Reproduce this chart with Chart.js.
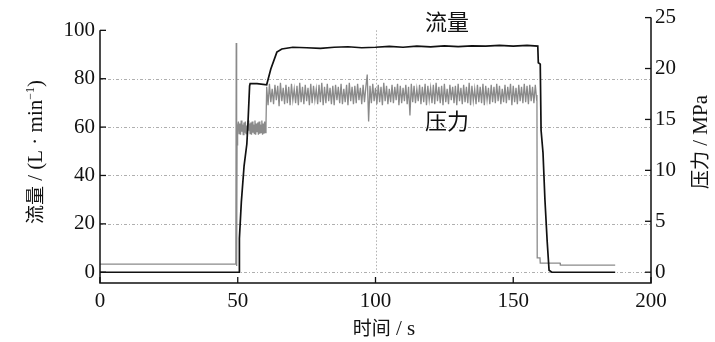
<!DOCTYPE html>
<html>
<head>
<meta charset="utf-8">
<script src="https://cdn.jsdelivr.net/npm/chart.js@4.4.1/dist/chart.umd.min.js"></script>
<style>
  html, body { margin: 0; padding: 0; background: #fff; }
  #wrapper { width: 715px; height: 342px; }
</style>
</head>
<body>
<div id="wrapper"><canvas id="canvas" width="715" height="342"></canvas></div>
<script>
// ---- datos ----
var xTicks = [0, 50, 100, 150, 200];
var flowTicks = [0, 20, 40, 60, 80, 100];
var pressTicks = [0, 5, 10, 15, 20, 25];

// 流量 (L/min), eje izquierdo
var flowTime  = [0, 50.5, 50.6, 51.3, 52.3, 53.3, 53.7, 54.3, 54.5, 57, 60.5, 62, 64.2, 66, 70, 75, 80, 85, 90, 95,
                 100, 105, 110, 115, 120, 125, 130, 135, 140, 145, 150, 155, 158.9, 159.1, 159.8, 160.1, 160.8, 161.5,
                 162.3, 163, 164, 187];
var flowValue = [0, 0, 14, 29, 44, 53, 61.5, 77, 78, 78, 77.5, 84, 91, 92.3, 93, 92.8, 92.5, 93, 93.2, 92.8,
                 93, 93.4, 93, 93.5, 93.2, 93.6, 93.3, 93.6, 93.5, 93.8, 93.5, 93.8, 93.5, 86.6, 86, 58.7, 49.4, 30,
                 13, 0.8, 0, 0];

// 压力 (MPa), eje derecho
var pressPreTime  = [0, 49.3, 49.45, 49.6, 49.75, 49.9];
var pressPreValue = [0.8, 0.8, 22.5, 0.6, 12.5, 14.0];

// banda baja: de 50 s, cada 0.25 s
var lowBandStart = 50, lowBandStep = 0.25;
var lowBand = [14.2, 14.8, 13.6, 14.6, 13.5, 14.9, 13.8, 14.5, 13.5, 14.7,
               13.7, 14.8, 13.6, 14.4, 13.5, 14.9, 13.9, 14.6, 13.6, 14.7,
               13.5, 14.8, 13.7, 14.5, 13.6, 14.9, 13.5, 14.6, 13.8, 14.7,
               13.5, 14.8, 13.6, 14.5, 13.7, 14.9, 13.5, 14.6, 13.6, 14.8,
               13.7, 14.5];

// banda alta: de 60.5 s, cada 0.5 s
var highBandStart = 60.5, highBandStep = 0.5;
var highBand = [
  18.2, 16.4, 18.5, 16.7, 18.0, 16.5, 18.4, 16.9, 18.3, 16.3, 18.6, 16.8, 18.1, 16.5,
  18.4, 16.6, 18.2, 16.4, 18.5, 16.9, 18.0, 16.6, 18.3, 16.4, 18.6, 16.7, 18.2, 16.5,
  18.4, 16.8, 18.1, 16.4, 18.5, 16.6, 18.3, 16.9, 18.0, 16.5, 18.4, 16.7, 18.6, 16.4,
  18.2, 16.6, 18.5, 16.8, 18.1, 16.5, 18.3, 16.4, 18.4, 16.9, 18.2, 16.6, 18.5, 16.5,
  18.0, 16.7, 18.4, 16.4, 18.6, 16.8, 18.2, 16.5, 18.3, 16.6, 18.5, 16.9, 18.1, 16.5,
  18.4, 16.7, 18.2, 19.4, 14.8, 18.3, 16.6, 18.5, 16.8, 18.1, 16.5, 18.4, 16.7, 18.2,
  16.4, 18.6, 16.8, 18.3, 16.5, 18.0, 16.7, 18.4, 16.6, 18.2, 16.9, 18.5, 16.4, 18.3,
  16.6, 18.1, 16.8, 18.4, 16.5, 18.2, 15.4, 18.5, 16.7, 18.3, 16.6, 18.0, 16.8, 18.4,
  16.5, 18.2, 16.7, 18.5, 16.4, 18.3, 16.9, 18.1, 16.6, 18.4, 16.5, 18.6, 16.8, 18.2,
  16.6, 18.3, 16.4, 18.5, 16.7, 18.0, 16.5, 18.4, 16.9, 18.2, 16.6, 18.3, 16.4, 18.5,
  16.8, 18.1, 16.5, 18.4, 16.7, 18.2, 16.6, 18.6, 16.4, 18.3, 16.8, 18.0, 16.5, 18.4,
  16.7, 18.2, 16.6, 18.5, 16.4, 18.3, 16.9, 18.1, 16.5, 18.4, 16.7, 18.2, 16.6, 18.5,
  16.8, 18.3, 16.5, 18.0, 16.7, 18.4, 16.6, 18.2, 16.9, 18.5, 16.4, 18.3, 16.7, 18.1,
  16.5, 18.4, 16.8, 18.2, 16.6, 18.5, 16.7, 18.3, 16.5, 18.4, 16.8, 18.2, 16.6, 18.4, 16.9
];

var pressEndTime  = [158.6, 158.7, 159.7, 159.8, 167, 167.1, 187];
var pressEndValue = [17.4, 1.4, 1.4, 0.9, 0.9, 0.7, 0.7];

// ---- armado de puntos ----
var flowPoints = flowTime.map(function (t, i) { return { x: t, y: flowValue[i] }; });
var pressPoints = [];
pressPreTime.forEach(function (t, i) { pressPoints.push({ x: t, y: pressPreValue[i] }); });
lowBand.forEach(function (v, i) { pressPoints.push({ x: lowBandStart + i * lowBandStep, y: v }); });
highBand.forEach(function (v, i) { pressPoints.push({ x: highBandStart + i * highBandStep, y: v }); });
pressEndTime.forEach(function (t, i) { pressPoints.push({ x: t, y: pressEndValue[i] }); });

var SERIF = '"Liberation Serif", "DejaVu Serif", serif';
var CJK = '"Noto Sans CJK SC", sans-serif';
var INK = '#111';

function drawRuns(ctx, runs, cx, cy, rot) {
  ctx.save();
  ctx.translate(cx, cy);
  ctx.rotate(rot);
  ctx.textAlign = 'left';
  ctx.textBaseline = 'alphabetic';
  ctx.fillStyle = INK;
  var total = 0;
  runs.forEach(function (r) { ctx.font = r.font; r.w = ctx.measureText(r.text).width; total += r.w; });
  var x = -total / 2;
  runs.forEach(function (r) {
    ctx.font = r.font;
    ctx.fillText(r.text, x, 7 + (r.dy || 0));
    x += r.w;
  });
  ctx.restore();
}

// ejes, marcas hacia dentro, rejilla y textos
var axesPlugin = {
  id: 'axesPlugin',
  beforeDatasetsDraw: function (chart) {
    var ctx = chart.ctx, a = chart.chartArea;
    var xs = chart.scales.x, yl = chart.scales.y;
    ctx.save();
    ctx.strokeStyle = '#9a9a9a';
    ctx.lineWidth = 0.8;
    ctx.setLineDash([3, 2, 1, 2]);
    flowTicks.forEach(function (v) {
      if (v === 100) return;
      var py = Math.round(yl.getPixelForValue(v)) + 0.5;
      ctx.beginPath(); ctx.moveTo(a.left, py); ctx.lineTo(a.right, py); ctx.stroke();
    });
    ctx.setLineDash([1.5, 2]);
    var px = Math.round(xs.getPixelForValue(100)) + 0.5;
    ctx.beginPath(); ctx.moveTo(px, yl.getPixelForValue(100)); ctx.lineTo(px, yl.getPixelForValue(0)); ctx.stroke();
    ctx.restore();
  },
  afterDraw: function (chart) {
    var ctx = chart.ctx, a = chart.chartArea;
    var xs = chart.scales.x, yl = chart.scales.y, yr = chart.scales.y1;
    ctx.save();
    ctx.strokeStyle = INK;
    ctx.lineWidth = 1.5;
    ctx.setLineDash([]);
    ctx.beginPath();
    ctx.moveTo(a.left, yl.getPixelForValue(100));
    ctx.lineTo(a.left, a.bottom);
    ctx.lineTo(a.right, a.bottom);
    ctx.lineTo(a.right, a.top);
    ctx.stroke();
    var tl = 6;
    ctx.lineWidth = 1.3;
    flowTicks.forEach(function (v) {
      var py = yl.getPixelForValue(v);
      ctx.beginPath(); ctx.moveTo(a.left, py); ctx.lineTo(a.left + tl, py); ctx.stroke();
    });
    pressTicks.forEach(function (v) {
      var py = yr.getPixelForValue(v);
      ctx.beginPath(); ctx.moveTo(a.right, py); ctx.lineTo(a.right - tl, py); ctx.stroke();
    });
    xTicks.forEach(function (v) {
      var px = xs.getPixelForValue(v);
      ctx.beginPath(); ctx.moveTo(px, a.bottom); ctx.lineTo(px, a.bottom - tl); ctx.stroke();
    });
    ctx.restore();

    var serif = '21px ' + SERIF, cjk = '19px ' + CJK;
    drawRuns(ctx, [
      { text: '流量', font: cjk },
      { text: ' / (L · min', font: serif },
      { text: '−1', font: '12px ' + SERIF, dy: -8 },
      { text: ')', font: serif }
    ], 35, 152, -Math.PI / 2);
    drawRuns(ctx, [{ text: '压力', font: cjk }, { text: ' / MPa', font: serif }], 700, 142, -Math.PI / 2);
    drawRuns(ctx, [{ text: '时间', font: cjk }, { text: ' / s', font: serif }], 384, 328, 0);
    drawRuns(ctx, [{ text: '流量', font: '22px ' + CJK }], 447, 23, 0);
    drawRuns(ctx, [{ text: '压力', font: '22px ' + CJK }], 447, 122, 0);
  }
};

function fixedTicks(list) {
  return function (scale) { scale.ticks = list.map(function (v) { return { value: v }; }); };
}

var ctx = document.getElementById('canvas');
var chart = new Chart(ctx, {
  type: 'line',
  data: {
    datasets: [{
      label: '流量',
      data: flowPoints,
      yAxisID: 'y',
      borderColor: '#111',
      borderWidth: 1.7,
      pointRadius: 0,
      tension: 0,
      order: 0
    }, {
      label: '压力',
      data: pressPoints,
      yAxisID: 'y1',
      borderColor: '#8a8a8a',
      borderWidth: 1.3,
      pointRadius: 0,
      tension: 0,
      order: 1
    }]
  },
  options: {
    responsive: false,
    animation: { duration: 0 },
    layout: { padding: { top: 12, left: 0, right: 0, bottom: 0 } },
    plugins: { legend: { display: false }, tooltip: { enabled: false }, title: { display: false } },
    scales: {
      x: {
        type: 'linear', position: 'bottom', min: 0, max: 200,
        afterBuildTicks: fixedTicks(xTicks),
        afterFit: function (s) { s.height = 59; },
        grid: { display: false, drawTicks: false },
        border: { display: false },
        ticks: { padding: 6, color: INK, font: { family: SERIF, size: 21 } }
      },
      y: {
        position: 'left', min: -4.45, max: 105.26,
        afterBuildTicks: fixedTicks(flowTicks),
        afterFit: function (s) { s.width = 100; },
        grid: { display: false, drawTicks: false },
        border: { display: false },
        ticks: { padding: 5, color: INK, font: { family: SERIF, size: 21 } }
      },
      y1: {
        position: 'right', min: -1.06, max: 25,
        afterBuildTicks: fixedTicks(pressTicks),
        afterFit: function (s) { s.width = 64; },
        grid: { display: false, drawTicks: false },
        border: { display: false },
        ticks: { padding: 4, color: INK, font: { family: SERIF, size: 21 } }
      }
    }
  },
  plugins: [axesPlugin]
});
</script>
</body>
</html>
